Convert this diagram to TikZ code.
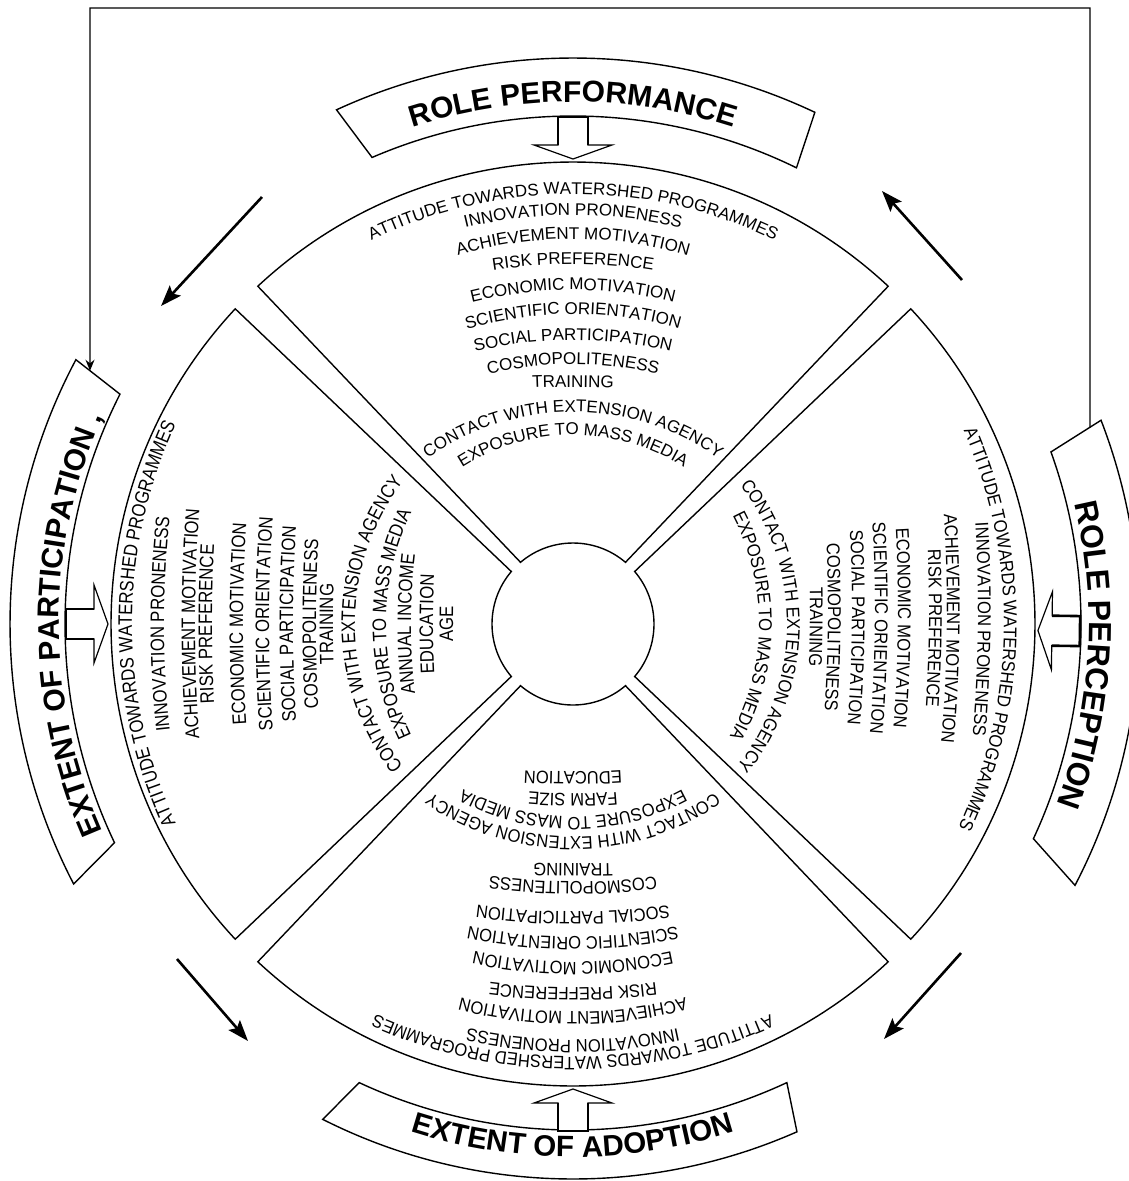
\documentclass[tikz,border=0pt]{standalone}
\usepackage{fontspec}
\setmainfont{Liberation Sans}
\newfontfamily\arialF{Liberation Sans}
\newfontfamily\arialN[FakeStretch=0.86]{Liberation Sans}
\newfontfamily\arialR[FakeStretch=0.90]{Liberation Sans}
\newfontfamily\arialB[FakeStretch=0.92]{Liberation Sans}
\usetikzlibrary{decorations.text,arrows.meta,calc}

\newcommand\fTop{\arialF\fontsize{17}{20}\selectfont}
\newcommand\fRt{\arialR\fontsize{18.5}{22}\selectfont}
\newcommand\fBot{\arialB\fontsize{18}{22}\selectfont}
\newcommand\fLft{\arialN\fontsize{19.5}{24}\selectfont}
\newcommand\fBanT{\arialF\bfseries\fontsize{30}{32}\selectfont}
\newcommand\fBanR{\arialF\bfseries\fontsize{32}{34}\selectfont}
\newcommand\fBanL{\arialF\bfseries\fontsize{30}{33}\selectfont}
\newcommand\fBanB{\arialF\bfseries\fontsize{29.5}{32}\selectfont}

% text line on an arc: axis angle, baseline distance, curvature radius, font, text
\newcommand\sline[5]{%
  \pgfmathsetmacro\bet{min(80,250/#3*57.2958)}%
  \pgfmathsetmacro\qd{#2-#3}%
  \path[decorate,decoration={text along path,text align=center,text={|#4|#5}}]
    (#1:\qd) ++(#1+\bet:#3) arc[start angle=#1+\bet, end angle=#1-\bet, radius=#3];
}
% sector of the wheel
\newcommand\sector[1]{%
  \draw[secline] (#1-45+1.98:462) arc[start angle=#1-45+1.98,end angle=#1+45-1.98,radius=462]
    -- (#1+45-4.6:81) arc[start angle=#1+45-4.6,end angle=#1-45+4.6,radius=81] -- cycle;
}
% curved banner: outer r, inner r, outer start, outer end, inner end, inner start (angles)
\newcommand\banner[6]{%
  \draw[banline] (#3:#1) arc[start angle=#3,end angle=#4,radius=#1]
    -- (#5:#2) arc[start angle=#5,end angle=#6,radius=#2] -- cycle;
}
% hollow block arrow pointing to the centre
\newcommand\blockarrow[1]{%
  \begin{scope}[rotate=#1]
    \draw[blockline,fill=white] (507,15) -- (479,15) -- (479,39) -- (465,0) -- (479,-39) -- (479,-15) -- (507,-15);
    \draw[stemline] (479,15) -- (507,15) -- (507,-15) -- (479,-15);
  \end{scope}
}
% banner title on an arc: font, text, radius, start angle, end angle
\newcommand\btitle[5]{%
  \path[decorate,decoration={text along path,text align=center,text={|#1|#2}}]
    (#4:#3) arc[start angle=#4,end angle=#5,radius=#3];
}

\tikzset{
  secline/.style={line width=1.4pt,line join=miter},
  banline/.style={line width=1.4pt,fill=white},
  blockline/.style={line width=1.2pt,line join=miter},
  stemline/.style={line width=2.6pt,line join=miter},
  flowarrow/.style={line width=2.6pt,-{Stealth[length=21pt,width=15pt,inset=4pt]}},
  feedback/.style={line width=1.3pt,-{Stealth[length=11pt,width=9pt]}}
}

\begin{document}
\begin{tikzpicture}[x=1pt,y=1pt]
\useasboundingbox (0,0) rectangle (1129,-1181);
\begin{scope}
\clip (0,0) rectangle (1129,-1181);
\coordinate (C) at (573,-624);
\begin{scope}[shift={(C)}]
  % wheel
  \sector{90}
  \sector{0}
  \sector{180}
  \sector{270}
  % banners
  \banner{566}{508}{64.7}{114.7}{113.3}{63.9}
  \banner{566}{508}{-27.5}{21.1}{19.8}{-25}
  \banner{563}{508}{152}{207.5}{205.5}{153.1}
  \banner{555}{506}{243.2}{293.8}{295}{245}
  \coordinate (lbTO) at (152:563);
  \coordinate (lbTI) at (153.1:508);
  \coordinate (rbTO) at (21.1:566);
  \coordinate (rbTI) at (19.8:508);
  % block arrows
  \blockarrow{90}
  \blockarrow{-0.8}
  \blockarrow{180}
  \blockarrow{270}
  % banner titles
  \btitle{\fBanT}{ROLE PERFORMANCE}{522}{120}{60}
  \btitle{\fBanR}{ROLE PERCEPTION}{516}{28}{-35}
  \btitle{\fBanL}{EXTENT OF PARTICIPATION ,}{514}{212}{148}
  \btitle{\fBanB}{EXTENT OF ADOPTION}{533}{240}{300}

  % top sector (role performance)
  \sline{90}{430}{460}{\fTop}{ATTITUDE TOWARDS WATERSHED PROGRAMMES}
  \sline{90}{409}{455}{\fTop}{INNOVATION PRONENESS}
  \sline{90}{385}{410}{\fTop}{ACHIEVEMENT MOTIVATION}
  \sline{90}{360}{500}{\fTop}{RISK PREFERENCE}
  \sline{90}{334}{420}{\fTop}{ECONOMIC MOTIVATION}
  \sline{90}{310}{380}{\fTop}{SCIENTIFIC ORIENTATION}
  \sline{90}{284}{420}{\fTop}{SOCIAL PARTICIPATION}
  \sline{90}{260}{350}{\fTop}{COSMOPOLITENESS}
  \sline{90}{237}{1000}{\fTop}{TRAINING}
  \sline{90}{212}{250}{\fTop}{CONTACT WITH EXTENSION AGENCY}
  \sline{90}{189}{206}{\fTop}{EXPOSURE TO MASS MEDIA}

  % right sector (role perception)
  \begin{scope}[rotate=-0.7]
  \sline{0}{431}{480}{\fRt}{ATTITUDE TOWARDS WATERSHED PROGRAMMES}
  \sline{0}{405}{1500}{\fRt}{INNOVATION PRONENESS}
  \sline{0}{374}{1500}{\fRt}{ACHIEVEMENT MOTIVATION}
  \sline{0}{356}{1500}{\fRt}{RISK PREFERENCE}
  \sline{0}{325}{1500}{\fRt}{ECONOMIC MOTIVATION}
  \sline{0}{302}{1500}{\fRt}{SCIENTIFIC ORIENTATION}
  \sline{0}{279}{1500}{\fRt}{SOCIAL PARTICIPATION}
  \sline{0}{255}{1500}{\fRt}{COSMOPOLITENESS}
  \sline{0}{237}{1500}{\fRt}{TRAINING}
  \sline{0}{214}{228}{\fRt}{CONTACT WITH EXTENSION AGENCY}
  \sline{0}{186}{231}{\fRt}{EXPOSURE TO MASS MEDIA}
  \end{scope}

  % left sector (extent of participation)
  \sline{180}{441}{476}{\fLft}{ATTITUDE TOWARDS WATERSHED PROGRAMMES}
  \sline{180}{409}{1000}{\fLft}{INNOVATION PRONENESS}
  \sline{180}{378}{1500}{\fLft}{ACHIEVEMENT MOTIVATION}
  \sline{180}{361}{1500}{\fLft}{RISK PREFERENCE}
  \sline{180}{330}{1500}{\fLft}{ECONOMIC MOTIVATION}
  \sline{180}{304}{1500}{\fLft}{SCIENTIFIC ORIENTATION}
  \sline{180}{280}{1500}{\fLft}{SOCIAL PARTICIPATION}
  \sline{180}{257}{1500}{\fLft}{COSMOPOLITENESS}
  \sline{180}{240}{1500}{\fLft}{TRAINING}
  \sline{180}{218}{234}{\fLft}{CONTACT WITH EXTENSION AGENCY}
  \sline{180}{187}{258}{\fLft}{EXPOSURE TO MASS MEDIA}
  \sline{180}{162}{600}{\fLft}{ANNUAL INCOME}
  \sline{180}{140}{1000}{\fLft}{EDUCATION}
  \sline{180}{120}{1500}{\fLft}{AGE}

  % bottom sector (extent of adoption)
  \sline{270}{433}{480}{\fBot}{ATTITUDE TOWARDS WATERSHED PROGRAMMES}
  \sline{270}{416}{490}{\fBot}{INNOVATION PRONENESS}
  \sline{270}{388}{450}{\fBot}{ACHIEVEMENT MOTIVATION}
  \sline{270}{364}{650}{\fBot}{RISK PREFFERENCE}
  \sline{270}{338}{470}{\fBot}{ECONOMIC MOTIVATION}
  \sline{270}{313}{530}{\fBot}{SCIENTIFIC ORIENTATION}
  \sline{270}{288}{700}{\fBot}{SOCIAL PARTICIPATION}
  \sline{270}{258}{600}{\fBot}{COSMOPOLITENESS}
  \sline{270}{240}{1500}{\fBot}{TRAINING}
  \sline{270}{213}{250}{\fBot}{CONTACT WITH EXTENSION AGENCY}
  \sline{270}{193}{230}{\fBot}{EXPOSURE TO MASS MEDIA}
  \sline{270}{170}{500}{\fBot}{FARM SIZE}
  \sline{270}{148}{800}{\fBot}{EDUCATION}
\end{scope}

% flow arrows between banners
\coordinate (tlA) at (262,-197); \coordinate (tlB) at (161,-306);
\coordinate (trA) at (962,-280); \coordinate (trB) at (882,-191);
\coordinate (blA) at (177,-959); \coordinate (blB) at (248,-1041);
\coordinate (brA) at (961,-953); \coordinate (brB) at (884,-1039);
\draw[flowarrow] (tlA) -- (tlB);
\draw[flowarrow] (trA) -- (trB);
\draw[flowarrow] (blA) -- (blB);
\draw[flowarrow] (brA) -- (brB);

% feedback line
\coordinate (vL1) at (90,-10); \coordinate (vL2) at (90,-600);
\coordinate (vR1) at (1090,-10); \coordinate (vR2) at (1090,-600);
\coordinate (epTop) at (intersection of lbTO--lbTI and vL1--vL2);
\coordinate (rpTop) at (intersection of rbTO--rbTI and vR1--vR2);
\coordinate (fbTurn) at (1090,-8);
\draw[feedback] (rpTop) -- (fbTurn) -| (epTop);
\end{scope}
\end{tikzpicture}
\end{document}
